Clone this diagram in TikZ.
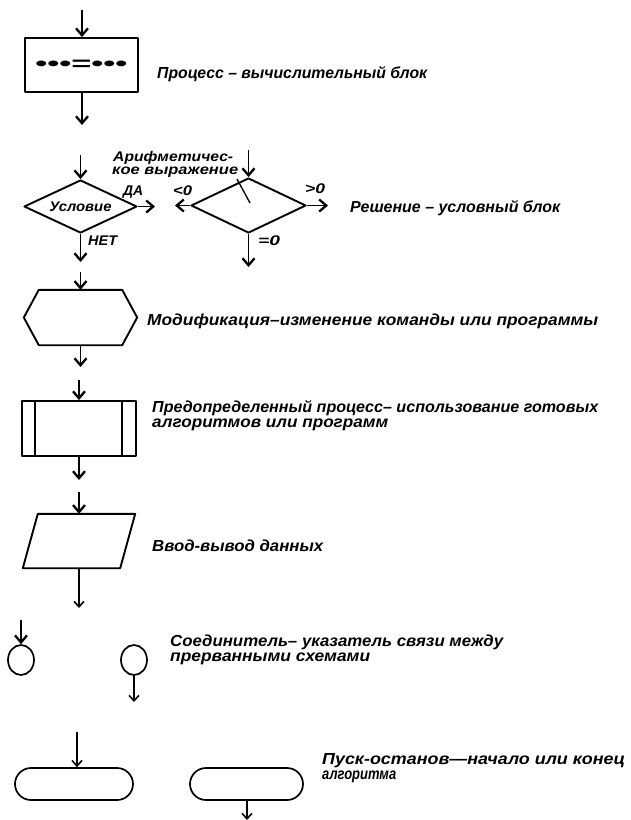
\documentclass[tikz,border=0pt]{standalone}
\usepackage{fontspec}
\usepackage{graphicx}
\usetikzlibrary{arrows.meta,shapes.geometric}
\newfontfamily\df{Liberation Sans}
\newcommand\ft[2]{\resizebox{#1pt}{\height}{#2}}
\tikzset{
  box/.style={draw, line width=1.9pt, inner sep=0pt},
  ghost/.style={inner sep=0pt},
  arr/.style={line width=1.9pt, -{Straight Barb[length=7pt,width=12pt,line width=2.3pt]}},
  arrthin/.style={line width=1.3pt, -{Straight Barb[length=5.5pt,width=10pt,line width=1.6pt]}},
  lbl/.style={font=\df\bfseries\itshape\fontsize{16pt}{15pt}\selectfont, inner sep=0pt, anchor=base west, align=left},
  sml/.style={font=\df\bfseries\itshape\fontsize{14pt}{12pt}\selectfont, inner sep=0pt, anchor=base west, align=left},
}
\begin{document}
\begin{tikzpicture}[x=1pt,y=-1pt,line join=round]
\useasboundingbox (0,0) rectangle (630,820);

% ---------- process
\node[box, minimum width=113pt, minimum height=54pt] (proc) at (81.5,65)
  {\raisebox{-6pt}{\df\bfseries\fontsize{20pt}{20pt}\selectfont\ft{92}{•••=•••}}};
\coordinate (pin) at (82,10);
\coordinate (pout) at (82,125);
\draw[arr] (pin) -- (pin |- proc.north);
\draw[arr] (pout |- proc.south) -- (pout);
\node[lbl] (t1) at (157,78) {\ft{270}{Процесс – вычислительный блок}};

% ---------- decisions
\node[box, diamond, aspect=2.13, minimum width=113pt, minimum height=53pt,
      font=\df\bfseries\itshape\fontsize{14pt}{14pt}\selectfont] (ld) at (80.5,206.5) {\ft{62}{Условие}};
\coordinate (lin) at (80.5,155);
\coordinate (lyes) at (155,206.5);
\coordinate (lno) at (80.5,262);
\draw[arr] (lin) -- (ld.north);
\draw[arr] (ld.east) -- (lyes);
\draw[arr] (ld.south) -- (lno);
\node[sml] (da) at (123,195) {\ft{20}{ДА}};
\node[sml] (net) at (88,245) {\ft{29}{НЕТ}};

\node[box, diamond, aspect=2.1, minimum width=115pt, minimum height=55pt] (rd) at (248.5,205.5) {};
\coordinate (rin) at (248.5,150);
\coordinate (rlt) at (175,205.5);
\coordinate (rgt) at (328,205.5);
\coordinate (req) at (248.5,267);
\draw[arr] (rin) -- (rd.north);
\draw[arr] (rd.west) -- (rlt);
\draw[arr] (rd.east) -- (rgt);
\draw[arr] (rd.south) -- (req);
\coordinate (slA) at (237,179);
\coordinate (slB) at (250,203);
\draw[line width=1.3pt] (slA) -- (slB);
\node[sml] (lt) at (173,195) {\ft{19}{<0}};
\node[sml] (gt) at (305,193) {\ft{20}{>0}};
\node[sml] (eq) at (258,245) {\ft{22}{=0}};
\node[sml] (ar1) at (113,161) {\ft{120}{Арифметичес-}};
\node[sml] (ar2) at (112,174) {\ft{126}{кое выражение}};
\node[lbl] (t2) at (350,212) {\ft{210}{Решение – условный блок}};

% ---------- modification (hexagon)
\node[ghost, minimum width=113pt, minimum height=55pt] (hex) at (80.5,317.5) {};
\draw[line width=1.9pt] ([xshift=15pt]hex.north west) -- ([xshift=-15pt]hex.north east) -- (hex.east)
  -- ([xshift=-15pt]hex.south east) -- ([xshift=15pt]hex.south west) -- (hex.west) -- cycle;
\coordinate (hin) at (80.5,272);
\coordinate (hout) at (80.5,367);
\draw[arr] (hin) -- (hex.north);
\draw[arr] (hex.south) -- (hout);
\node[lbl] (t3) at (147,325) {\ft{451}{Модификация–изменение команды или программы}};

% ---------- predefined process
\node[box, minimum width=114pt, minimum height=55pt] (pp) at (79,428.5) {};
\draw[line width=1.9pt] ([xshift=14pt]pp.north west) -- ([xshift=14pt]pp.south west);
\draw[line width=1.9pt] ([xshift=-15pt]pp.north east) -- ([xshift=-15pt]pp.south east);
\coordinate (ppin) at (79,380);
\coordinate (ppout) at (79,480);
\draw[arr] (ppin) -- (pp.north);
\draw[arr] (pp.south) -- (ppout);
\node[lbl] (t4) at (152,427) {\ft{446}{Предопределенный процесс– использование готовых}\\\ft{236}{алгоритмов или программ}};

% ---------- input / output
\node[ghost, minimum width=112pt, minimum height=54pt] (io) at (79,541) {};
\draw[line width=1.9pt] ([xshift=15pt]io.north west) -- (io.north east)
  -- ([xshift=-15pt]io.south east) -- (io.south west) -- cycle;
\coordinate (ioin) at (79,492);
\coordinate (ioout) at (79,608);
\draw[arr] (ioin) -- (io.north);
\draw[arrthin] (io.south) -- (ioout);
\node[lbl] (t5) at (152,551) {\ft{171}{Ввод-вывод данных}};

% ---------- connectors
\node[draw, ellipse, line width=1.7pt, minimum width=26pt, minimum height=30pt, inner sep=0pt] (cl) at (21,660) {};
\node[draw, ellipse, line width=1.7pt, minimum width=26pt, minimum height=30pt, inner sep=0pt] (cr) at (134,660) {};
\coordinate (clin) at (21,620);
\coordinate (crout) at (134,702);
\draw[arr] (clin) -- (cl.north);
\draw[arrthin] (cr.south) -- (crout);
\node[lbl] (t6) at (170,661) {\ft{333}{Соединитель– указатель связи между}\\\ft{200}{прерванными схемами}};

% ---------- terminals
\node[draw, line width=1.7pt, rounded corners=16pt, minimum width=118pt, minimum height=32pt, inner sep=0pt] (tl) at (74,784) {};
\node[draw, line width=1.7pt, rounded corners=16pt, minimum width=113pt, minimum height=32pt, inner sep=0pt] (tr) at (246.5,784) {};
\coordinate (tin) at (77,732);
\coordinate (tout) at (247,820);
\draw[arrthin] (tin) -- (tin |- tl.north);
\draw[arrthin] (tout |- tr.south) -- (tout);
\node[lbl] (t7) at (322,779) {\ft{303}{Пуск-останов—начало или конец}\\\ft{74}{алгоритма}};
\end{tikzpicture}
\end{document}
